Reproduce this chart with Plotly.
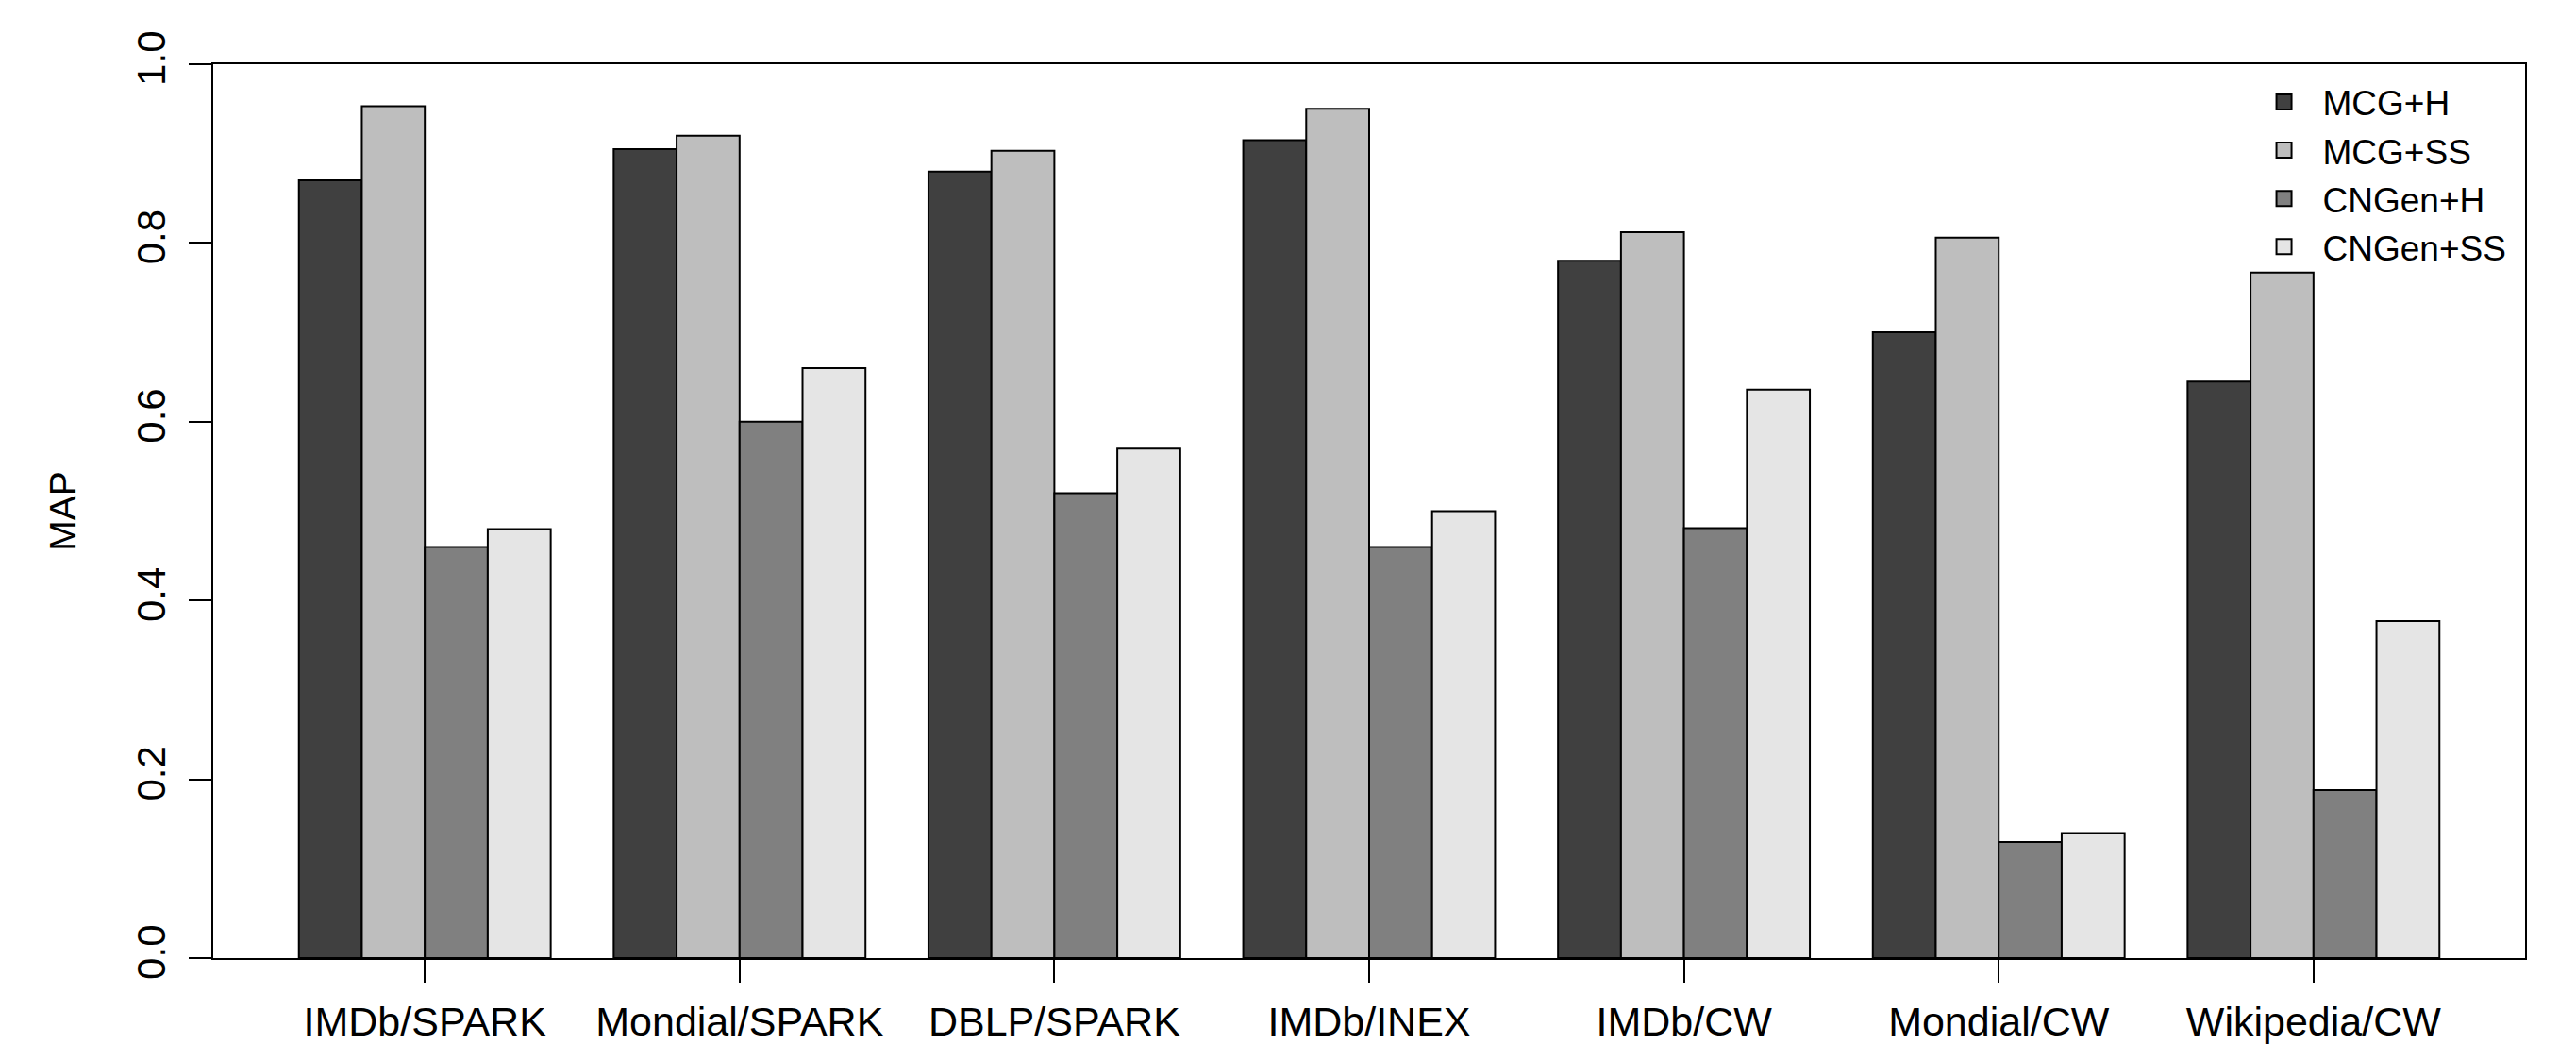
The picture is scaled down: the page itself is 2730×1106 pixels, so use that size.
import plotly.graph_objects as go

categories = ["IMDb/SPARK", "Mondial/SPARK", "DBLP/SPARK", "IMDb/INEX",
              "IMDb/CW", "Mondial/CW", "Wikipedia/CW"]
mcg_h = [0.87, 0.905, 0.88, 0.915, 0.78, 0.70, 0.645]
mcg_ss = [0.953, 0.92, 0.903, 0.95, 0.812, 0.806, 0.767]
cngen_h = [0.46, 0.60, 0.52, 0.46, 0.481, 0.13, 0.188]
cngen_ss = [0.48, 0.66, 0.57, 0.50, 0.636, 0.14, 0.377]
series_names = ["MCG+H", "MCG+SS", "CNGen+H", "CNGen+SS"]
series_values = [mcg_h, mcg_ss, cngen_h, cngen_ss]
series_colors = ["#404040", "#BEBEBE", "#808080", "#E5E5E5"]
y_ticks = [0.0, 0.2, 0.4, 0.6, 0.8, 1.0]

FONT = "Liberation Sans, Arial, Helvetica, sans-serif"

fig = go.Figure()
for name, vals, col in zip(series_names, series_values, series_colors):
    fig.add_trace(go.Bar(
        x=categories, y=vals, name=name, showlegend=False,
        marker=dict(color=col, line=dict(color="black", width=2)),
    ))
# legend proxies (larger square swatches than bar legend symbols)
for name, col in zip(series_names, series_colors):
    fig.add_trace(go.Scatter(
        x=[None], y=[None], name=name, mode="markers",
        marker=dict(symbol="square", size=16, color=col,
                    line=dict(color="black", width=2)),
    ))

# the page body adds an 8px offset; the figure is sized to fill the window
fig.update_layout(
    width=2722, height=1098,
    margin=dict(l=218, r=54, t=60, b=91, autoexpand=False),
    paper_bgcolor="white", plot_bgcolor="white",
    barmode="group", bargap=0.2, bargroupgap=0.0,
    font=dict(family=FONT, color="black", size=42),
    legend=dict(
        x=0.879, y=0.99, xanchor="left", yanchor="top",
        font=dict(family=FONT, size=37, color="black"),
        bgcolor="rgba(0,0,0,0)", borderwidth=0,
        itemwidth=72, tracegroupgap=0,
    ),
)
fig.update_xaxes(
    type="category", range=[-0.672, 6.672],
    showline=True, linecolor="black", linewidth=2, mirror=True,
    ticks="outside", ticklen=24, tickwidth=2, tickcolor="black",
    ticklabelstandoff=4,
    showgrid=False, zeroline=False,
    tickfont=dict(family=FONT, size=43, color="black"),
    automargin=False,
)
fig.update_yaxes(
    range=[0, 1], tickmode="array", tickvals=y_ticks,
    tickformat=".1f", tickangle=-90,
    showline=True, linecolor="black", linewidth=2, mirror=True,
    ticks="outside", ticklen=24, tickwidth=2, tickcolor="black",
    ticklabelstandoff=8,
    showgrid=False, zeroline=False,
    tickfont=dict(family=FONT, size=42, color="black"),
    title=dict(text="MAP", font=dict(family=FONT, size=39, color="black"), standoff=45),
    automargin=False,
)

fig.write_html("out.html")
